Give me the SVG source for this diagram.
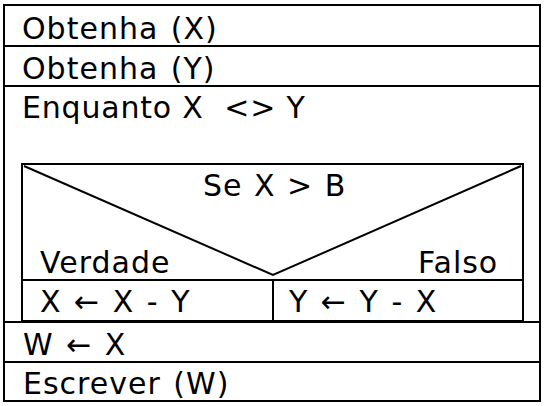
<svg xmlns="http://www.w3.org/2000/svg" width="546" height="406" viewBox="0 0 546 406">
<style>
.b{fill:none;stroke:#000;stroke-width:2}
.t{font-family:"DejaVu Sans",Verdana,sans-serif;font-size:30px;fill:#000;white-space:pre;letter-spacing:1px;word-spacing:2px}
</style>
<rect width="546" height="406" fill="#fff"/>
<g id="outer">
<rect class="b" x="4" y="5" width="536" height="396"/>
</g>
<g id="r1">
<line class="b" x1="4" y1="46" x2="540" y2="46"/>
<text class="t" x="22" y="39">Obtenha (X)</text>
</g>
<g id="r2">
<line class="b" x1="4" y1="86" x2="540" y2="86"/>
<text class="t" x="22" y="79">Obtenha (Y)</text>
</g>
<g id="loop">
<text class="t" x="22" y="118" xml:space="preserve" style="word-spacing:0;letter-spacing:0.8px">Enquanto X  &lt;&gt; Y</text>
</g>
<g id="ifblock">
<rect class="b" x="22" y="164" width="501" height="157"/>
<polyline class="b" points="24,166 273,275 521,166"/>
<line class="b" x1="22" y1="280" x2="523" y2="280"/>
<line class="b" x1="273" y1="280" x2="273" y2="321"/>
<text class="t" x="203" y="196" style="word-spacing:1px">Se X &gt; B</text>
<text class="t" x="40" y="273">Verdade</text>
<text class="t" x="418" y="273">Falso</text>
<text class="t" x="40" y="312">X ← X - Y</text>
<text class="t" x="289" y="312">Y ← Y - X</text>
</g>
<g id="r4">
<line class="b" x1="4" y1="322" x2="540" y2="322"/>
<text class="t" x="23" y="355">W ← X</text>
</g>
<g id="r5">
<line class="b" x1="4" y1="362" x2="540" y2="362"/>
<text class="t" x="23" y="394">Escrever (W)</text>
</g>
</svg>
